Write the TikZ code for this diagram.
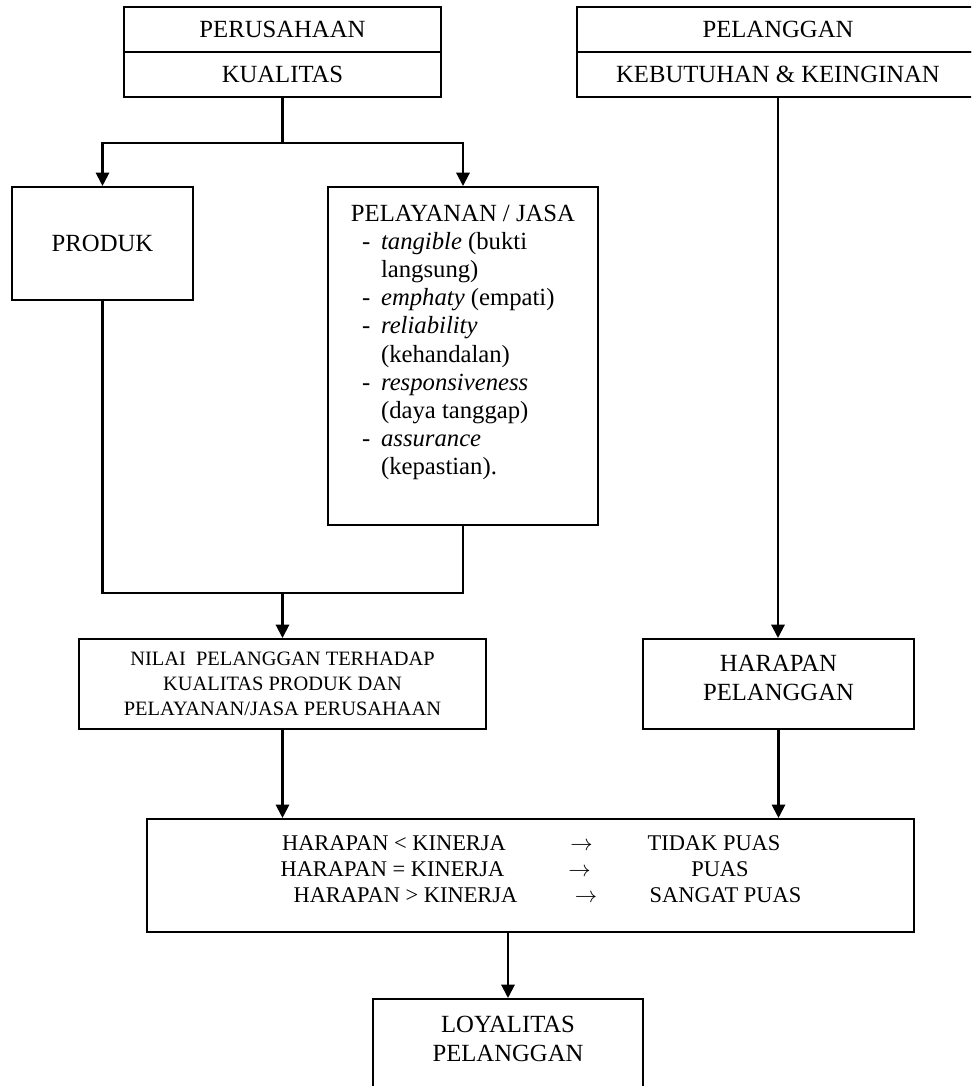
\documentclass[tikz,border=0pt]{standalone}
\usepackage{fontspec}
\setmainfont{Liberation Serif}
\usepackage{tikz}
\usetikzlibrary{arrows.meta}
\newcommand{\butir}{\hspace*{16.7pt}\makebox[9.3pt][l]{-}}
\newcommand{\lanjut}{\hspace*{26pt}}

\begin{document}
\begin{tikzpicture}[x=0.49pt,y=-0.49pt,line width=1pt]
	\tikzstyle{every node}=[font=\fontsize{12.1}{14.2}\selectfont]
	\tikzstyle{kotak}=[draw, rectangle, inner sep=0pt, align=center]
	\tikzstyle{baris}=[anchor=base, inner sep=0pt, font=\fontsize{11}{13}\selectfont]
	\tikzstyle{panah}=[-{Triangle[width=6.5pt,length=6.5pt]}]
	\useasboundingbox (0,0) rectangle (971,1086);
	\clip (0,0) rectangle (971,1086);
	
	% kotak atas
	\node[kotak, minimum width=155.3pt, minimum height=22.05pt] (perusahaan) at (282.5,29.5) {PERUSAHAAN};
	\node[kotak, minimum width=155.3pt, minimum height=22.05pt] (kualitas) at (282.5,74.5) {KUALITAS};
	\node[kotak, minimum width=197pt, minimum height=22.05pt] (pelanggan) at (778,29.5) {PELANGGAN};
	\node[kotak, minimum width=197pt, minimum height=22.05pt] (kebutuhan) at (778,74.5) {KEBUTUHAN \& KEINGINAN};
	
	\node[kotak, minimum width=88.7pt, minimum height=55.4pt] (produk) at (102.5,243.5) {PRODUK};
	\node[kotak] (jasa) at (463,356) {\parbox[c][165.6pt][t]{132.3pt}{\fontsize{12.1}{13.8}\selectfont\vspace*{7.1pt}%
			\centering\strut PELAYANAN / JASA\par
			\raggedright
			\butir\textit{tangible} (bukti\\
			\lanjut langsung)\\
			\butir\textit{emphaty} (empati)\\
			\butir\textit{reliability}\\
			\lanjut(kehandalan)\\
			\butir\textit{responsiveness}\\
			\lanjut(daya tanggap)\\
			\butir\textit{assurance}\\
			\lanjut(kepastian).}};
	
	\node[kotak, minimum width=199.4pt, minimum height=44.1pt, font=\fontsize{10}{12.25}\selectfont] (nilai) at (282.5,684) {NILAI\ \ PELANGGAN TERHADAP\\KUALITAS PRODUK DAN\\PELAYANAN/JASA PERUSAHAAN};
	\node[kotak, minimum width=132.8pt, minimum height=44.1pt, text depth=6.4pt] (harapan) at (778.5,684) {HARAPAN\\PELANGGAN};
	
	\node[kotak, minimum width=375.8pt, minimum height=55.4pt] (hasil) at (530.5,875.5) {};
	\node[baris] (kurang) at (394,850) {HARAPAN < KINERJA};
	\node[baris] (panah1) at (581.5,850) {$\rightarrow$};
	\node[baris] (tidakpuas) at (714,850) {TIDAK PUAS};
	\node[baris] (sama) at (392.5,876) {HARAPAN = KINERJA};
	\node[baris] (panah2) at (579.5,876) {$\rightarrow$};
	\node[baris] (puas) at (720,876) {PUAS};
	\node[baris] (lebih) at (405.5,902) {HARAPAN > KINERJA};
	\node[baris] (panah3) at (586,902) {$\rightarrow$};
	\node[baris] (sangatpuas) at (725.5,902) {SANGAT PUAS};
	
	\node[kotak, minimum width=132.3pt, minimum height=54.4pt, text depth=15.6pt] (loyalitas) at (508,1054.5) {LOYALITAS\\PELANGGAN};
	
	% garis penghubung
	\coordinate (cabang) at (282.5,143);
	\draw (kualitas.south) -- (cabang);
	\draw[panah] (cabang) -| (produk.north);
	\draw[panah] (cabang) -| (jasa.north);
	
	\coordinate (gabung) at (282.5,593);
	\draw (produk.south) |- (gabung) -| (jasa.south);
	\draw[panah] (gabung) -- (nilai.north);
	
	\draw[panah] (kebutuhan.south) -- (kebutuhan.south |- harapan.north);
	\draw[panah] (nilai.south) -- (nilai.south |- hasil.north);
	\draw[panah] (harapan.south) -- (harapan.south |- hasil.north);
	\draw[panah] (loyalitas.north |- hasil.south) -- (loyalitas.north);
	
\end{tikzpicture}
\end{document}
